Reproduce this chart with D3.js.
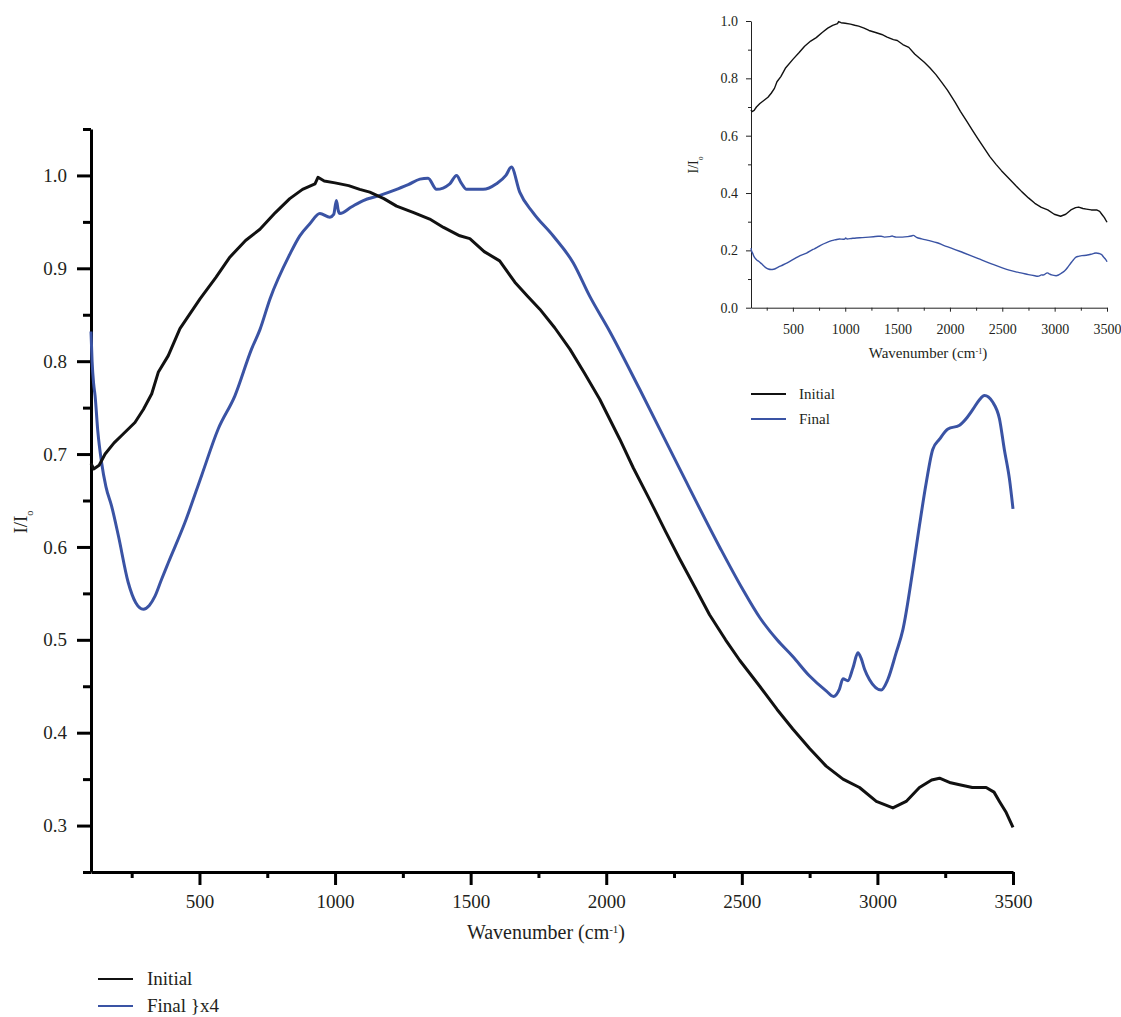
<!DOCTYPE html>
<html>
<head>
  <meta charset="utf-8">
  <title>Transmittance spectra</title>
<style>
body { margin: 0; background: #fff; }
svg text {
  font-family: "Liberation Serif", "Times New Roman", serif;
  fill: #231f20;
}
.main .domain, .main .tick line { stroke: #000; stroke-width: 3px; }
.main .tick text { font-size: 19px; }
.inset .domain, .inset .tick line { stroke: #222; stroke-width: 1px; }
.inset .tick text { font-size: 14px; }
path.spectrum { fill: none; stroke-linejoin: round; }
</style>
</head>
<body>
<svg id="chart" width="1121" height="1017"></svg>
<script src="https://d3js.org/d3.v7.min.js"></script>
<script>

// Initial spectrum, [wavenumber, I/Io]
var initial = [
  [100,0.690],[110,0.684],[130,0.688],[152,0.700],[185,0.712],[213,0.720],
  [262,0.734],[293,0.748],[324,0.765],[348,0.788],[385,0.806],[428,0.835],
  [502,0.867],[560,0.890],[612,0.912],[670,0.930],[723,0.942],[780,0.960],
  [833,0.975],[880,0.985],[926,0.991],[937,0.998],[960,0.994],[1000,0.992],
  [1050,0.989],[1091,0.985],[1128,0.982],[1180,0.975],[1227,0.967],[1290,0.960],
  [1349,0.953],[1400,0.944],[1460,0.935],[1497,0.932],[1550,0.918],[1607,0.908],
  [1663,0.885],[1710,0.870],[1755,0.856],[1810,0.836],[1866,0.813],[1920,0.787],
  [1976,0.759],[2050,0.716],[2100,0.685],[2160,0.651],[2220,0.616],[2271,0.587],
  [2330,0.555],[2381,0.527],[2440,0.500],[2492,0.478],[2566,0.450],[2630,0.425],
  [2688,0.404],[2750,0.383],[2811,0.364],[2873,0.350],[2934,0.341],[2996,0.326],
  [3057,0.319],[3106,0.326],[3155,0.341],[3200,0.349],[3229,0.351],[3270,0.346],
  [3303,0.344],[3350,0.341],[3401,0.341],[3430,0.336],[3450,0.326],[3475,0.314],
  [3500,0.298]
];

// Final spectrum multiplied by 4 (main plot), [wavenumber, I/Io x4]
var finalX4 = [
  [100,0.832],[104,0.800],[110,0.775],[115,0.763],[125,0.725],[139,0.691],
  [155,0.665],[176,0.644],[201,0.612],[237,0.562],[265,0.540],[293,0.533],
  [315,0.537],[336,0.547],[360,0.565],[385,0.583],[446,0.626],[508,0.677],
  [569,0.727],[631,0.763],[692,0.813],[723,0.834],[760,0.867],[833,0.915],
  [870,0.935],[907,0.948],[944,0.959],[981,0.955],[995,0.958],[1005,0.973],
  [1012,0.962],[1018,0.959],[1060,0.966],[1104,0.973],[1160,0.978],[1227,0.985],
  [1270,0.990],[1313,0.996],[1343,0.997],[1374,0.985],[1423,0.991],[1448,1.000],
  [1465,0.992],[1485,0.985],[1546,0.985],[1595,0.991],[1630,1.000],[1650,1.009],
  [1681,0.982],[1730,0.960],[1804,0.935],[1878,0.906],[1939,0.870],[2013,0.832],
  [2123,0.770],[2271,0.684],[2418,0.600],[2500,0.556],[2566,0.524],[2630,0.500],
  [2688,0.482],[2750,0.461],
  [2811,0.445],[2838,0.439],[2860,0.447],[2873,0.458],[2891,0.456],[2910,0.470],
  [2928,0.486],[2940,0.480],[2953,0.468],[2971,0.457],[3014,0.446],[3038,0.457],
  [3069,0.486],[3094,0.511],[3131,0.576],[3155,0.623],[3180,0.669],[3204,0.705],
  [3229,0.716],[3260,0.727],[3303,0.731],[3327,0.738],[3352,0.748],[3375,0.758],
  [3395,0.763],[3425,0.756],[3450,0.738],[3468,0.705],[3487,0.673],[3500,0.641]
];
var finalFactor = 4; // the inset shows the unscaled final spectrum

var xMajor = [500, 1000, 1500, 2000, 2500, 3000, 3500];
var xMinor = [250, 750, 1250, 1750, 2250, 2750, 3250];
var mainYMajor = [0.3, 0.4, 0.5, 0.6, 0.7, 0.8, 0.9, 1.0];
var mainYMinor = [0.25, 0.35, 0.45, 0.55, 0.65, 0.75, 0.85, 0.95, 1.05];
var insetYMajor = [0.0, 0.2, 0.4, 0.6, 0.8, 1.0];
var insetYMinor = [0.1, 0.3, 0.5, 0.7, 0.9];

var BLACK = "#111", BLUE = "#3a53a4";

var svg = d3.select("#chart");
var fmtY = d3.format(".1f"), fmtX = d3.format("d");

// adds "I/Io" with the subscript o
function ioLabel(sel) {
  sel.append("tspan").text("I/I");
  sel.append("tspan").attr("baseline-shift", "sub").attr("font-size", "55%").text("o");
}
function wnLabel(sel) {
  sel.append("tspan").text("Wavenumber (cm");
  sel.append("tspan").attr("baseline-shift", "super").attr("font-size", "55%").text("-1");
  sel.append("tspan").text(")");
}

/* ---------- main plot ---------- */
var main = svg.append("g").attr("class", "main");
var x = d3.scaleLinear().domain([100, 3500]).range([91, 1013]);
var y = d3.scaleLinear().domain([0.25, 1.05]).range([872, 129]);

main.append("g").attr("transform", "translate(0,872)")
  .call(d3.axisBottom(x).tickValues(xMajor).tickSize(13).tickSizeOuter(0).tickPadding(10).tickFormat(fmtX));
main.append("g").attr("transform", "translate(0,872)")
  .call(d3.axisBottom(x).tickValues(xMinor).tickSize(6).tickFormat(""))
  .select(".domain").remove();
main.append("g").attr("transform", "translate(91,0)")
  .call(d3.axisLeft(y).tickValues(mainYMajor).tickSize(14).tickSizeOuter(0).tickPadding(10).tickFormat(fmtY));
main.append("g").attr("transform", "translate(91,0)")
  .call(d3.axisLeft(y).tickValues(mainYMinor).tickSize(8).tickFormat(""))
  .select(".domain").remove();
main.selectAll(".tick text").attr("fill", "#231f20");

var line = d3.line().x(function (d) { return x(d[0]); }).y(function (d) { return y(d[1]); });

main.append("path").datum(finalX4).attr("class", "spectrum")
  .attr("stroke", BLUE).attr("stroke-width", 3)
  .attr("d", line.curve(d3.curveMonotoneX));
main.append("path").datum(initial).attr("class", "spectrum")
  .attr("stroke", BLACK).attr("stroke-width", 3)
  .attr("d", line.curve(d3.curveLinear));

main.append("text").attr("x", 546).attr("y", 939).attr("text-anchor", "middle")
  .attr("font-size", 20).call(wnLabel);
main.append("text").attr("transform", "translate(27,522) rotate(-90)")
  .attr("text-anchor", "middle").attr("font-size", 19).call(ioLabel);

var mainLegend = [["Initial", BLACK, 979], ["Final }x4", BLUE, 1006]];
mainLegend.forEach(function (d) {
  main.append("line").attr("x1", 98).attr("x2", 133).attr("y1", d[2]).attr("y2", d[2])
    .attr("stroke", d[1]).attr("stroke-width", 2);
  main.append("text").attr("x", 147).attr("y", d[2] + 6).attr("font-size", 19).text(d[0]);
});

/* ---------- inset ---------- */
var inset = svg.append("g").attr("class", "inset");
var xi = d3.scaleLinear().domain([100, 3500]).range([751, 1107]);
var yi = d3.scaleLinear().domain([0, 1.0]).range([307.7, 21]);

inset.append("g").attr("transform", "translate(0,307.7)")
  .call(d3.axisBottom(xi).tickValues(xMajor).tickSize(4).tickSizeOuter(0).tickPadding(12).tickFormat(fmtX));
inset.append("g").attr("transform", "translate(0,307.7)")
  .call(d3.axisBottom(xi).tickValues(xMinor).tickSize(3).tickFormat(""))
  .select(".domain").remove();
inset.append("g").attr("transform", "translate(751,0)")
  .call(d3.axisLeft(yi).tickValues(insetYMajor).tickSize(5).tickSizeOuter(0).tickPadding(8).tickFormat(fmtY));
inset.append("g").attr("transform", "translate(751,0)")
  .call(d3.axisLeft(yi).tickValues(insetYMinor).tickSize(3).tickFormat(""))
  .select(".domain").remove();
inset.selectAll(".tick text").attr("fill", "#231f20");

var lineI = d3.line().x(function (d) { return xi(d[0]); }).y(function (d) { return yi(d[1]); });
inset.append("path").datum(initial).attr("class", "spectrum")
  .attr("stroke", BLACK).attr("stroke-width", 1.4)
  .attr("d", lineI.curve(d3.curveLinear));
inset.append("path").datum(finalX4).attr("class", "spectrum")
  .attr("stroke", BLUE).attr("stroke-width", 1.4)
  .attr("d", d3.line()
    .x(function (d) { return xi(d[0]); })
    .y(function (d) { return yi(d[1] / finalFactor); })
    .curve(d3.curveMonotoneX));

inset.append("text").attr("x", 928).attr("y", 358).attr("text-anchor", "middle")
  .attr("font-size", 15).call(wnLabel);
inset.append("text").attr("transform", "translate(698,165) rotate(-90)")
  .attr("text-anchor", "middle").attr("font-size", 14).call(ioLabel);

var insetLegend = [["Initial", BLACK, 394], ["Final", BLUE, 419]];
insetLegend.forEach(function (d) {
  inset.append("line").attr("x1", 751).attr("x2", 786).attr("y1", d[2]).attr("y2", d[2])
    .attr("stroke", d[1]).attr("stroke-width", 2);
  inset.append("text").attr("x", 799).attr("y", d[2] + 5).attr("font-size", 15).text(d[0]);
});

</script>
</body>
</html>
